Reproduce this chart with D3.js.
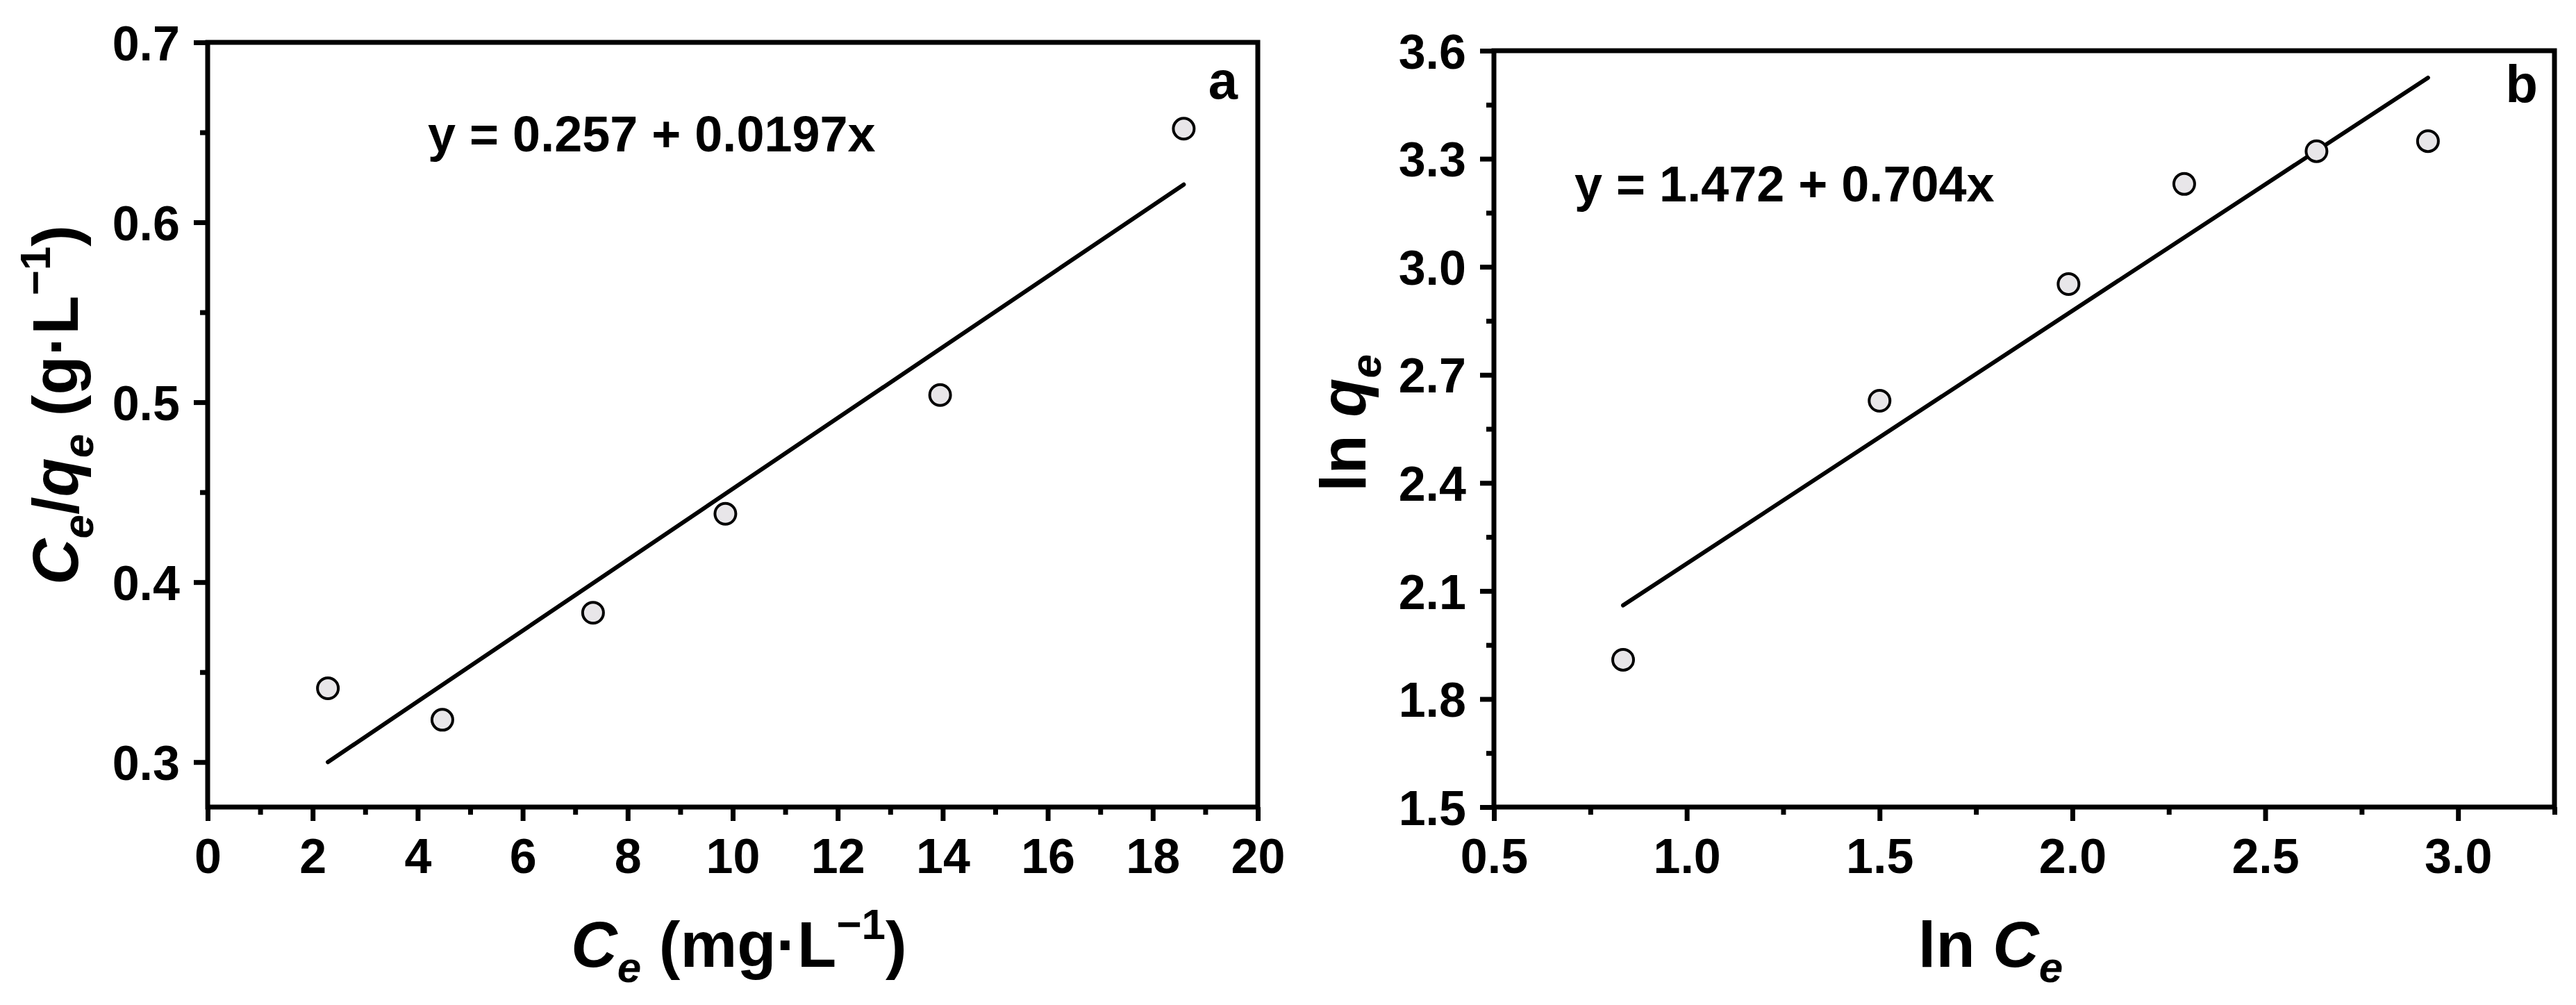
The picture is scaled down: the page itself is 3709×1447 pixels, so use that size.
<!DOCTYPE html>
<html>
<head>
<meta charset="utf-8">
<script src="https://cdn.jsdelivr.net/npm/d3@7"></script>
<style>
  html, body { margin: 0; padding: 0; background: #fff; }
  svg { display: block; }
  text { font-family: "Liberation Sans", Arial, Helvetica, sans-serif; font-weight: bold; fill: #000; }
</style>
</head>
<body>
<svg id="chart" width="3709" height="1447"></svg>
<script>
// ---------- data ----------
const aCe      = [2.29, 4.47, 7.34, 9.86, 13.95, 18.59];        // Ce (mg/L)
const aCeQe    = [0.341, 0.3235, 0.383, 0.438, 0.504, 0.652];   // Ce/qe (g/L)
const aFitX    = [2.29, 18.59];
const aFitY    = [0.300, 0.621];
const aEquation = "y = 0.257 + 0.0197x";

const bLnCe    = [0.835, 1.50, 1.99, 2.29, 2.633, 2.922];
const bLnQe    = [1.909, 2.628, 2.952, 3.230, 3.321, 3.349];
const bFitX    = [0.835, 2.922];
const bFitY    = [2.060, 3.525];
const bEquation = "y = 1.472 + 0.704x";

const aXTicks  = [0, 2, 4, 6, 8, 10, 12, 14, 16, 18, 20];
const aXMinor  = [1, 3, 5, 7, 9, 11, 13, 15, 17, 19];
const aYTicks  = [0.3, 0.4, 0.5, 0.6, 0.7];
const aYMinor  = [0.35, 0.45, 0.55, 0.65];
const bXTicks  = [0.5, 1.0, 1.5, 2.0, 2.5, 3.0];
const bXMinor  = [0.75, 1.25, 1.75, 2.25, 2.75, 3.25];
const bYTicks  = [1.5, 1.8, 2.1, 2.4, 2.7, 3.0, 3.3, 3.6];
const bYMinor  = [1.65, 1.95, 2.25, 2.55, 2.85, 3.15, 3.45];

// ---------- layout ----------
const svg = d3.select("#chart");
svg.append("rect").attr("width", 3709).attr("height", 1447).attr("fill", "#fff");

const TICK_FS = 70;

function panel(cfg) {
  const g = svg.append("g");
  const x = d3.scaleLinear().domain(cfg.xDomain).range([cfg.left, cfg.right]);
  const y = d3.scaleLinear().domain(cfg.yDomain).range([cfg.bottom, cfg.top]);

  // minor ticks
  const minorX = g.append("g").attr("transform", `translate(0,${cfg.bottom})`)
    .call(d3.axisBottom(x).tickValues(cfg.xMinor).tickSize(11).tickFormat(""));
  const minorY = g.append("g").attr("transform", `translate(${cfg.left},0)`)
    .call(d3.axisLeft(y).tickValues(cfg.yMinor).tickSize(11).tickFormat(""));
  // major ticks
  const majorX = g.append("g").attr("transform", `translate(0,${cfg.bottom})`)
    .call(d3.axisBottom(x).tickValues(cfg.xTicks).tickSize(20).tickPadding(25).tickFormat(cfg.xFmt));
  const majorY = g.append("g").attr("transform", `translate(${cfg.left},0)`)
    .call(d3.axisLeft(y).tickValues(cfg.yTicks).tickSize(20).tickPadding(20).tickFormat(cfg.yFmt));

  [minorX, minorY, majorX, majorY].forEach(ax => {
    ax.select(".domain").remove();
    ax.selectAll(".tick line").attr("stroke", "#000").attr("stroke-width", 7);
    ax.selectAll("text").attr("font-size", TICK_FS).attr("font-family", null);
  });
  majorY.selectAll("text").attr("dy", "0.36em");

  // frame
  g.append("rect")
    .attr("x", cfg.left).attr("y", cfg.top)
    .attr("width", cfg.right - cfg.left).attr("height", cfg.bottom - cfg.top)
    .attr("fill", "none").attr("stroke", "#000").attr("stroke-width", 7);

  // fit line
  g.append("path")
    .datum(cfg.fitX.map((v, i) => [v, cfg.fitY[i]]))
    .attr("d", d3.line().x(d => x(d[0])).y(d => y(d[1])))
    .attr("fill", "none").attr("stroke", "#000").attr("stroke-width", 6)
    .attr("stroke-linecap", "round");

  // points
  g.selectAll("circle.pt")
    .data(cfg.xs.map((v, i) => [v, cfg.ys[i]]))
    .join("circle").attr("class", "pt")
    .attr("cx", d => x(d[0])).attr("cy", d => y(d[1]))
    .attr("r", 15)
    .attr("fill", "#e8e6e9").attr("stroke", "#000").attr("stroke-width", 4);

  // equation
  g.append("text").attr("x", cfg.eqX).attr("y", cfg.eqY)
    .attr("font-size", 72).text(cfg.equation);

  // panel letter
  g.append("text").attr("x", cfg.letterX).attr("y", cfg.letterY)
    .attr("text-anchor", "end").attr("font-size", 76).text(cfg.letter);

  return { g, x, y };
}

const pa = panel({
  left: 299, right: 1811, top: 61, bottom: 1162,
  xDomain: [0, 20], yDomain: [0.275, 0.7],
  xTicks: aXTicks, xMinor: aXMinor, yTicks: aYTicks, yMinor: aYMinor,
  xFmt: d3.format("d"), yFmt: d3.format(".1f"),
  xs: aCe, ys: aCeQe, fitX: aFitX, fitY: aFitY,
  equation: aEquation, eqX: 616, eqY: 218,
  letter: "a", letterX: 1782, letterY: 142
});

const pb = panel({
  left: 2151, right: 3678, top: 73, bottom: 1162,
  xDomain: [0.5, 3.25], yDomain: [1.5, 3.6],
  xTicks: bXTicks, xMinor: bXMinor, yTicks: bYTicks, yMinor: bYMinor,
  xFmt: d3.format(".1f"), yFmt: d3.format(".1f"),
  xs: bLnCe, ys: bLnQe, fitX: bFitX, fitY: bFitY,
  equation: bEquation, eqX: 2267, eqY: 290,
  letter: "b", letterX: 3654, letterY: 147
});

// ---------- axis titles ----------
const TITLE_FS = 92, SUB_FS = 62;

function addParts(textSel, parts) {
  parts.forEach(p => {
    const t = textSel.append("tspan").text(p.t);
    if (p.i) t.attr("font-style", "italic");
    if (p.sub) t.attr("font-size", SUB_FS).attr("dy", 22);
    if (p.sup) t.attr("font-size", SUB_FS).attr("dy", -40);
    if (p.back) t.attr("dy", p.back);
  });
}

// panel a x title
const axT = svg.append("text").attr("x", 1064).attr("y", 1392)
  .attr("text-anchor", "middle").attr("font-size", TITLE_FS);
addParts(axT, [
  { t: "C", i: true }, { t: "e", i: true, sub: true },
  { t: " (mg·L", back: -22 }, { t: "−1", sup: true }, { t: ")", back: 40 }
]);

// panel a y title
const ayT = svg.append("text").attr("transform", "translate(112,583) rotate(-90)")
  .attr("text-anchor", "middle").attr("font-size", TITLE_FS);
addParts(ayT, [
  { t: "C", i: true }, { t: "e", i: true, sub: true },
  { t: "/", back: -22 }, { t: "q", i: true }, { t: "e", i: true, sub: true },
  { t: " (g·L", back: -22 }, { t: "−1", sup: true }, { t: ")", back: 40 }
]);

// panel b x title
const bxT = svg.append("text").attr("x", 2866).attr("y", 1392)
  .attr("text-anchor", "middle").attr("font-size", TITLE_FS);
addParts(bxT, [
  { t: "ln " }, { t: "C", i: true }, { t: "e", i: true, sub: true }
]);

// panel b y title
const byT = svg.append("text").attr("transform", "translate(1966,609) rotate(-90)")
  .attr("text-anchor", "middle").attr("font-size", TITLE_FS);
addParts(byT, [
  { t: "ln " }, { t: "q", i: true }, { t: "e", i: true, sub: true }
]);
</script>
</body>
</html>
